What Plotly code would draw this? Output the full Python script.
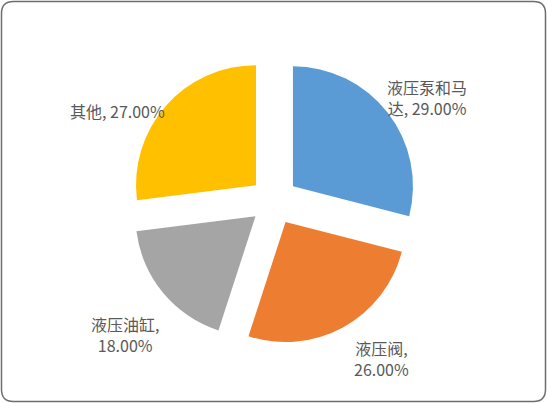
import plotly.graph_objects as go

# data
labels = ["液压泵和马达", "液压阀", "液压油缸", "其他"]
shares = [29.0, 26.0, 18.0, 27.0]
colors = ["#5B9BD5", "#ED7D31", "#A5A5A5", "#FFC000"]

W, H = 547, 403

# where each label line breaks (None = single line), and label centres in pixels
breaks = [5, 4, 5, None]
label_px = [(427, 98), (381, 358), (125, 334), (117, 111)]


def label_text(name, v, n):
    txt = f"{name}, {v:.2f}%"
    if n is None:
        return txt
    return txt[:n] + "<br>" + txt[n:].lstrip()


fig = go.Figure(
    go.Pie(
        labels=labels,
        values=shares,
        marker=dict(colors=colors, line=dict(width=0)),
        sort=False,
        direction="clockwise",
        rotation=0,
        pull=[0.2] * 4,
        textinfo="none",
        hoverinfo="label+percent",
        showlegend=False,
        domain=dict(x=[130 / W, 418 / W], y=[1 - 345 / H, 1 - 57 / H]),
    )
)

for name, v, n, (px, py) in zip(labels, shares, breaks, label_px):
    fig.add_annotation(
        x=px / W, y=1 - py / H, xref="paper", yref="paper",
        xanchor="center", yanchor="middle",
        text=label_text(name, v, n), showarrow=False, align="center",
        font=dict(size=16, color="#595959"),
    )

# rounded chart border
r = 12
x0, x1, y0, y1 = 1.5, W - 1.5, 1.5, H - 1.5
def P(x, y):
    return f"{x / W:.5f},{1 - y / H:.5f}"
path = (f"M {P(x0 + r, y0)} L {P(x1 - r, y0)} Q {P(x1, y0)} {P(x1, y0 + r)} "
        f"L {P(x1, y1 - r)} Q {P(x1, y1)} {P(x1 - r, y1)} "
        f"L {P(x0 + r, y1)} Q {P(x0, y1)} {P(x0, y1 - r)} "
        f"L {P(x0, y0 + r)} Q {P(x0, y0)} {P(x0 + r, y0)} Z")
fig.add_shape(type="path", path=path, xref="paper", yref="paper",
              line=dict(color="#6E6E6E", width=1.5))

fig.update_layout(
    width=W, height=H,
    margin=dict(l=0, r=0, t=0, b=0),
    paper_bgcolor="white",
    plot_bgcolor="white",
    font=dict(family="Noto Sans CJK SC, Noto Sans, sans-serif", color="#595959"),
)

fig.write_html("out.html", config={"displayModeBar": False},
               post_script="document.body.style.margin='0';document.body.style.overflow='hidden';")
